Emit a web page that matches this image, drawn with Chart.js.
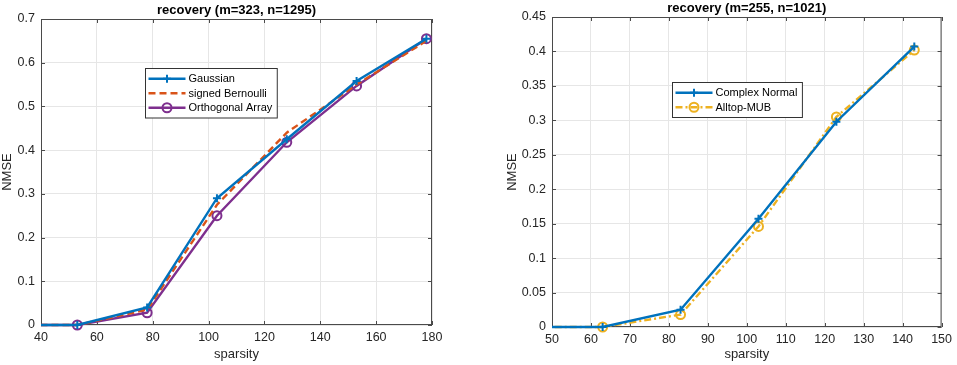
<!DOCTYPE html>
<html>
<head>
<meta charset="utf-8">
<script src="https://cdn.jsdelivr.net/npm/chart.js@4"></script>
<style>
  body { margin: 0; background: #fff; }
  canvas { position: absolute; top: 0; }
</style>
</head>
<body>
<canvas id="left" width="478" height="365" style="left:0"></canvas>
<canvas id="right" width="479" height="365" style="left:478px"></canvas>
<script>
// left panel data
const sparsityA = [28, 53, 78, 103, 128, 153, 178];
const gaussian = [0, 0, 0.04, 0.29, 0.425, 0.558, 0.655];
const bernoulli = [0, 0, 0.035, 0.275, 0.44, 0.55, 0.65];
const orthArray = [0, 0, 0.028, 0.25, 0.418, 0.547, 0.655];

// right panel data
const sparsityB = [43, 63, 83, 103, 123, 143];
const complexNormal = [0, 0, 0.025, 0.157, 0.298, 0.407];
const alltop = [0, 0, 0.018, 0.146, 0.305, 0.402];

const FONT = '"Liberation Sans", Arial, sans-serif';
const BLUE = '#0072BD', RED = '#D95319', PURPLE = '#7E2F8E', YELLOW = '#EDB120';
const CLIP = { left: 0, top: 6, right: 6, bottom: 6 };
const LW = 2.4;

function pts(xs, ys) { return xs.map((x, i) => ({ x: x, y: ys[i] })); }

function drawMarker(ctx, style, x, y, r, color) {
  ctx.save();
  ctx.setLineDash([]);
  ctx.strokeStyle = color;
  ctx.lineWidth = 2;
  ctx.beginPath();
  if (style === 'cross') {
    ctx.moveTo(x - r, y); ctx.lineTo(x + r, y);
    ctx.moveTo(x, y - r); ctx.lineTo(x, y + r);
  } else if (style === 'circle') {
    ctx.arc(x, y, r, 0, Math.PI * 2);
  }
  ctx.stroke();
  ctx.restore();
}

// axes box, inward ticks, title, legend drawn matlab-ish
const matlabFrame = {
  id: 'matlabFrame',
  beforeDatasetsDraw(chart, args, opts) {
    const ctx = chart.ctx;
    const a = chart.chartArea;
    const xs = chart.scales.x, ys = chart.scales.y;
    ctx.save();
    ctx.strokeStyle = '#4a4a4a';
    ctx.lineWidth = 1;
    ctx.setLineDash([]);
    ctx.strokeRect(a.left + 0.5, a.top + 0.5, a.right - a.left - 1, a.bottom - a.top - 1);
    ctx.beginPath();
    xs.ticks.forEach(t => {
      const px = Math.round(xs.getPixelForValue(t.value)) + 0.5;
      ctx.moveTo(px, a.bottom); ctx.lineTo(px, a.bottom - 4);
      ctx.moveTo(px, a.top); ctx.lineTo(px, a.top + 4);
    });
    ys.ticks.forEach(t => {
      const py = Math.round(ys.getPixelForValue(t.value)) + 0.5;
      ctx.moveTo(a.left, py); ctx.lineTo(a.left + 4, py);
      ctx.moveTo(a.right, py); ctx.lineTo(a.right - 4, py);
    });
    ctx.stroke();

    // title
    ctx.fillStyle = '#000';
    ctx.font = 'bold 13px ' + FONT;
    ctx.textAlign = 'center';
    ctx.textBaseline = 'bottom';
    ctx.fillText(opts.title, (a.left + a.right) / 2, a.top - 2);
    ctx.restore();
  },
  afterDraw(chart, args, opts) {
    const ctx = chart.ctx;
    const a = chart.chartArea;
    ctx.save();
    const ds = chart.data.datasets;
    ctx.font = '11px ' + FONT;
    ctx.textAlign = 'left';
    ctx.textBaseline = 'middle';
    const rowH = 14.5, sample = 37;
    const tw = Math.max(...ds.map(d => ctx.measureText(d.label).width));
    const bw = 3 + sample + 3 + tw + 5;
    const bh = ds.length * rowH + 6;
    const bx = Math.round(a.left + opts.legendX * (a.right - a.left)) + 0.5;
    const by = Math.round(a.top + opts.legendY * (a.bottom - a.top)) + 0.5;
    ctx.fillStyle = '#fff';
    ctx.fillRect(bx, by, bw, bh);
    ctx.strokeStyle = '#333';
    ctx.lineWidth = 1;
    ctx.strokeRect(bx, by, bw, bh);
    ds.forEach((d, i) => {
      const cy = by + 3 + rowH * i + rowH / 2;
      ctx.save();
      ctx.strokeStyle = d.borderColor;
      ctx.lineWidth = d.borderWidth;
      ctx.setLineDash(d.borderDash || []);
      ctx.beginPath();
      ctx.moveTo(bx + 3, cy); ctx.lineTo(bx + 3 + sample, cy);
      ctx.stroke();
      ctx.restore();
      if (d.pointRadius > 0) drawMarker(ctx, d.pointStyle, bx + 3 + sample / 2, cy, d.pointRadius, d.borderColor);
      ctx.fillStyle = '#000';
      ctx.fillText(d.label, bx + 3 + sample + 3, cy + 0.5);
    });
    ctx.restore();
  }
};

function makeOptions(cfg) {
  return {
    responsive: false,
    animation: false,
    layout: { padding: { top: cfg.top, right: cfg.right, left: cfg.left, bottom: 0 } },
    plugins: {
      legend: { display: false },
      tooltip: { enabled: false },
      matlabFrame: { title: cfg.title, legendX: cfg.legendX, legendY: cfg.legendY }
    },
    scales: {
      x: {
        type: 'linear',
        min: cfg.xMin, max: cfg.xMax,
        afterFit: s => { s.height = cfg.xHeight; },
        ticks: { stepSize: cfg.xStep, color: '#262626', font: { family: FONT, size: 12.5 }, padding: 5, maxRotation: 0 },
        grid: { color: '#e6e6e6', drawTicks: false },
        border: { display: false },
        title: { display: true, text: 'sparsity', color: '#262626', font: { family: FONT, size: 13 }, padding: { top: 0, bottom: 3 } }
      },
      y: {
        min: 0, max: cfg.yMax,
        afterFit: s => { s.width = cfg.yWidth; },
        ticks: { stepSize: cfg.yStep, color: '#262626', font: { family: FONT, size: 12.5 }, padding: 6,
                 callback: v => String(+v.toFixed(2)) },
        grid: { color: '#e6e6e6', drawTicks: false },
        border: { display: false },
        title: { display: true, text: 'NMSE', color: '#262626', font: { family: FONT, size: 13 }, padding: { top: 0, bottom: 2 } }
      }
    }
  };
}

new Chart('left', {
  type: 'line',
  data: {
    datasets: [
      { label: 'Gaussian', data: pts(sparsityA, gaussian), borderColor: BLUE, borderWidth: LW, clip: CLIP,
        pointStyle: 'cross', pointRadius: 4, pointBorderWidth: 2, pointBackgroundColor: BLUE },
      { label: 'signed Bernoulli', data: pts(sparsityA, bernoulli), borderColor: RED, borderWidth: LW, clip: CLIP,
        borderDash: [7, 4], pointRadius: 0 },
      { label: 'Orthogonal Array', data: pts(sparsityA, orthArray), borderColor: PURPLE, borderWidth: LW, clip: CLIP,
        pointStyle: 'circle', pointRadius: 4.5, pointBorderWidth: 2, pointBackgroundColor: 'rgba(0,0,0,0)' }
    ]
  },
  options: makeOptions({ title: 'recovery (m=323, n=1295)', top: 19, right: 46, left: 0, yWidth: 41, xHeight: 40,
    xMin: 40, xMax: 180, xStep: 20, yMax: 0.7, yStep: 0.1, legendX: 0.266, legendY: 0.16 }),
  plugins: [matlabFrame]
});

new Chart('right', {
  type: 'line',
  data: {
    datasets: [
      { label: 'Complex Normal', data: pts(sparsityB, complexNormal), borderColor: BLUE, borderWidth: LW, clip: CLIP,
        pointStyle: 'cross', pointRadius: 4, pointBorderWidth: 2, pointBackgroundColor: BLUE },
      { label: 'Alltop-MUB', data: pts(sparsityB, alltop), borderColor: YELLOW, borderWidth: LW, clip: CLIP,
        borderDash: [7, 3, 2, 3], pointStyle: 'circle', pointRadius: 4.5, pointBorderWidth: 2,
        pointBackgroundColor: 'rgba(0,0,0,0)' }
    ]
  },
  options: makeOptions({ title: 'recovery (m=255, n=1021)', top: 17, right: 13, left: 27, yWidth: 47, xHeight: 38,
    xMin: 50, xMax: 150, xStep: 10, yMax: 0.45, yStep: 0.05, legendX: 0.309, legendY: 0.21 }),
  plugins: [matlabFrame]
});
</script>
</body>
</html>
